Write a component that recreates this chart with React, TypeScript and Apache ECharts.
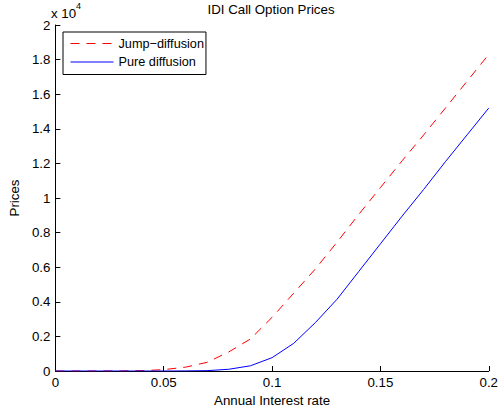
import React, { useEffect, useRef } from "react";
import * as echarts from "echarts";

const rates = [0, 0.01, 0.02, 0.03, 0.04, 0.05, 0.06, 0.07, 0.08, 0.09, 0.1, 0.11, 0.12, 0.13, 0.14, 0.15, 0.16, 0.17, 0.18, 0.19, 0.2];
const jumpDiffusion = [0, 0, 0, 5, 20, 80, 220, 500, 1100, 1850, 3100, 4500, 5900, 7450, 9050, 10600, 12150, 13650, 15200, 16750, 18300];
const pureDiffusion = [0, 0, 0, 0, 0, 0, 5, 20, 100, 300, 770, 1600, 2800, 4150, 5750, 7350, 8950, 10500, 12100, 13650, 15200];
const seriesNames = ["Jump\u2212diffusion", "Pure diffusion"];
const xTicks = { min: 0, max: 0.2, interval: 0.05 };
const yTicks = { min: 0, max: 20000, interval: 2000 };

const FONT = "'Liberation Sans', Arial, Helvetica, sans-serif";
const FS = 13.3;

export default function App() {
  const ref = useRef<HTMLDivElement>(null);
  useEffect(() => {
    if (!ref.current) return;
    const chart = echarts.init(ref.current, null, { renderer: "svg" });
    chart.setOption({
      animation: false,
      backgroundColor: "#ffffff",
      textStyle: { fontFamily: FONT },
      title: {
        text: "IDI Call Option Prices",
        left: 271,
        textAlign: "center",
        top: 3,
        padding: 0,
        textStyle: { fontSize: FS, fontWeight: "normal", color: "#000", fontFamily: FONT },
      },
      grid: { left: 51, right: 10, top: 25, bottom: 43, containLabel: false },
      legend: {
        orient: "vertical",
        left: 63,
        top: 32,
        data: seriesNames,
        itemWidth: 43,
        itemHeight: 13,
        itemGap: 5.5,
        padding: [5, 2, 6, 7],
        borderColor: "#000",
        borderWidth: 1,
        backgroundColor: "#fff",
        itemStyle: { opacity: 0 },
        lineStyle: { width: 1 },
        textStyle: { fontSize: 12.7, color: "#000", fontFamily: FONT },
      },
      xAxis: {
        type: "value",
        min: xTicks.min,
        max: xTicks.max,
        interval: xTicks.interval,
        name: "Annual Interest rate",
        nameLocation: "middle",
        nameGap: 20,
        nameTextStyle: { fontSize: FS, color: "#000", fontFamily: FONT },
        axisLine: { lineStyle: { color: "#000", width: 1 } },
        axisTick: { inside: true, length: 5, lineStyle: { color: "#000" } },
        axisLabel: {
          fontSize: FS,
          color: "#000",
          margin: 5,
          fontFamily: FONT,
          alignMinLabel: "center",
          alignMaxLabel: "center",
          hideOverlap: false,
        },
        splitLine: { show: false },
      },
      yAxis: {
        type: "value",
        min: yTicks.min,
        max: yTicks.max,
        interval: yTicks.interval,
        name: "Prices",
        nameLocation: "middle",
        nameGap: 30,
        nameRotate: 90,
        nameTextStyle: { fontSize: FS, color: "#000", fontFamily: FONT },
        axisLine: { show: true, lineStyle: { color: "#000", width: 1 } },
        axisTick: { show: true, inside: true, length: 5, lineStyle: { color: "#000" } },
        axisLabel: {
          fontSize: FS,
          color: "#000",
          margin: 5,
          fontFamily: FONT,
          verticalAlignMinLabel: "middle",
          verticalAlignMaxLabel: "middle",
          formatter: (v: number) => String(parseFloat((v / 10000).toFixed(1))),
        },
        splitLine: { show: false },
      },
      graphic: [
        {
          type: "text",
          left: 51,
          top: 7,
          style: { text: "x 10", fill: "#000", font: `${FS}px ${FONT}` },
        },
        {
          type: "text",
          left: 76,
          top: 1,
          style: { text: "4", fill: "#000", font: `9px ${FONT}` },
        },
      ],
      series: [
        {
          name: seriesNames[0],
          type: "line",
          data: rates.map((r, i) => [r, jumpDiffusion[i]]),
          symbol: "none",
          lineStyle: { color: "#ff0000", width: 1, type: [9, 7] },
          itemStyle: { color: "#ff0000" },
        },
        {
          name: seriesNames[1],
          type: "line",
          data: rates.map((r, i) => [r, pureDiffusion[i]]),
          symbol: "none",
          lineStyle: { color: "#0000ff", width: 1, type: "solid" },
          itemStyle: { color: "#0000ff" },
        },
      ],
    });
    return () => chart.dispose();
  }, []);
  return (
    <div
      ref={ref}
      style={{ position: "absolute", left: 0, top: 0, width: 501, height: 414 }}
    />
  );
}
